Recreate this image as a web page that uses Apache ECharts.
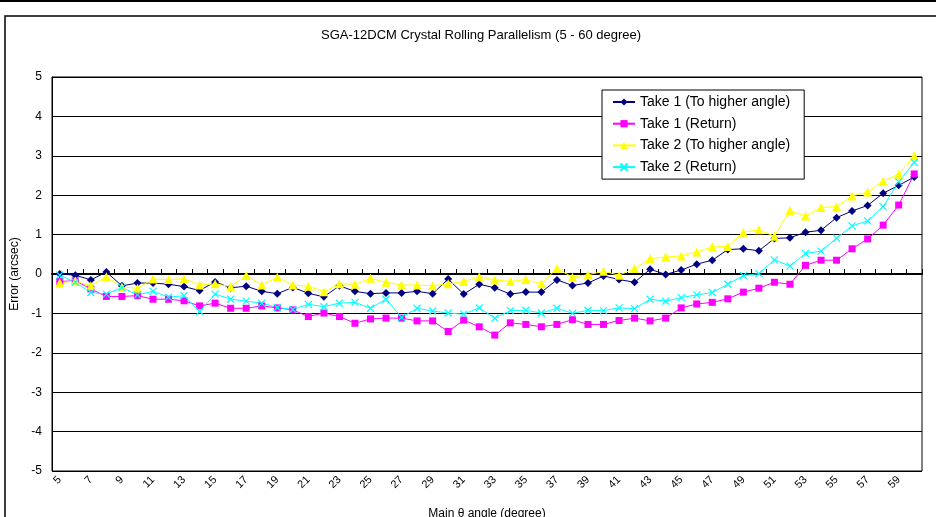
<!DOCTYPE html>
<html>
<head>
<meta charset="utf-8">
<script src="https://cdn.jsdelivr.net/npm/echarts@6/dist/echarts.min.js"></script>
<style>
  html, body { margin: 0; padding: 0; background: #fff; }
  #main { width: 936px; height: 517px; }
</style>
</head>
<body>
<div id="main"></div>
<script>
// main theta angle, degree
var angles = ['5','6','7','8','9','10','11','12','13','14','15','16','17','18','19','20',
  '21','22','23','24','25','26','27','28','29','30','31','32','33','34','35','36','37','38',
  '39','40','41','42','43','44','45','46','47','48','49','50','51','52','53','54','55','56',
  '57','58','59','60']

// error in arcsec
var take1Up = [0.00,-0.03,-0.15,0.05,-0.30,-0.23,-0.23,-0.26,-0.32,-0.42,-0.20,-0.35,-0.31,-0.44,
  -0.50,-0.34,-0.49,-0.58,-0.30,-0.44,-0.50,-0.48,-0.48,-0.44,-0.50,-0.13,-0.51,-0.26,-0.35,-0.51,
  -0.46,-0.46,-0.15,-0.29,-0.23,-0.05,-0.14,-0.21,0.12,-0.01,0.10,0.25,0.35,0.62,0.64,0.59,
  0.90,0.92,1.06,1.11,1.43,1.60,1.74,2.05,2.25,2.46]
var take1Ret = [-0.19,-0.17,-0.38,-0.57,-0.57,-0.55,-0.64,-0.64,-0.68,-0.81,-0.74,-0.87,-0.87,-0.81,
  -0.86,-0.91,-1.08,-0.99,-1.08,-1.25,-1.14,-1.12,-1.12,-1.19,-1.19,-1.46,-1.17,-1.34,-1.55,-1.24,
  -1.28,-1.34,-1.28,-1.16,-1.28,-1.28,-1.18,-1.12,-1.19,-1.12,-0.86,-0.76,-0.72,-0.63,-0.46,-0.36,
  -0.21,-0.26,0.22,0.35,0.35,0.64,0.89,1.24,1.75,2.54]
var take2Up = [-0.22,-0.18,-0.30,-0.07,-0.33,-0.36,-0.13,-0.14,-0.12,-0.28,-0.25,-0.32,-0.04,-0.28,
  -0.08,-0.28,-0.31,-0.45,-0.25,-0.26,-0.11,-0.21,-0.28,-0.28,-0.30,-0.25,-0.19,-0.07,-0.15,-0.19,
  -0.14,-0.25,0.14,-0.08,-0.02,0.07,-0.03,0.14,0.39,0.43,0.46,0.56,0.69,0.70,1.06,1.12,
  0.96,1.61,1.47,1.69,1.71,1.98,2.08,2.36,2.53,3.00]
var take2Ret = [-0.03,-0.21,-0.47,-0.51,-0.34,-0.53,-0.44,-0.59,-0.55,-0.95,-0.51,-0.64,-0.69,-0.74,
  -0.85,-0.90,-0.77,-0.83,-0.74,-0.72,-0.87,-0.64,-1.10,-0.87,-0.94,-0.99,-1.02,-0.86,-1.12,-0.93,
  -0.92,-0.99,-0.87,-1.00,-0.92,-0.93,-0.86,-0.88,-0.64,-0.69,-0.60,-0.53,-0.47,-0.26,-0.04,0.01,
  0.36,0.20,0.52,0.58,0.91,1.22,1.35,1.71,2.34,2.83]

var seriesNames = ['Take 1 (To higher angle)', 'Take 1 (Return)', 'Take 2 (To higher angle)', 'Take 2 (Return)']

var font = 'Liberation Sans'
var crossMark = 'path://M0,0L10,10M10,0L0,10'

function lineSeries(name, data, color, symbol, size) {
  return {
    name: name,
    type: 'line',
    xAxisIndex: 0,
    data: data,
    symbol: symbol,
    symbolSize: size,
    showSymbol: true,
    lineStyle: { color: color, width: 1 },
    itemStyle: { color: color, borderColor: color, borderWidth: symbol === crossMark ? 1.2 : 0 }
  }
}

var myChart = echarts.init(document.getElementById('main'))
var option = {
  animation: false,
  backgroundColor: '#fff',
  textStyle: { fontFamily: font },
  title: {
    text: 'SGA-12DCM Crystal Rolling Parallelism (5 - 60 degree)',
    left: 316,
    top: 24,
    textStyle: { fontSize: 13, fontWeight: 'normal', color: '#000', fontFamily: font }
  },
  graphic: [
    { type: 'rect', shape: { x: 0, y: 0, width: 936, height: 2 }, style: { fill: '#000' } },
    { type: 'rect', shape: { x: 5, y: 16, width: 945, height: 520 }, style: { fill: 'none', stroke: '#000', lineWidth: 1.5 } }
  ],
  legend: {
    data: seriesNames,
    orient: 'vertical',
    left: 602,
    top: 90,
    itemWidth: 22,
    itemHeight: 9,
    itemGap: 7.7,
    padding: [5, 14, 5, 10],
    borderColor: '#000',
    borderWidth: 1,
    borderRadius: 0,
    backgroundColor: '#fff',
    textStyle: { fontSize: 14, lineHeight: 14, color: '#000', fontFamily: font }
  },
  grid: {
    left: 52,
    right: 14,
    top: 77,
    bottom: 46,
    outerBoundsMode: 'none',
    show: true,
    borderColor: '#000',
    borderWidth: 1,
    backgroundColor: '#fff'
  },
  xAxis: [{
    type: 'category',
    data: angles,
    position: 'bottom',
    boundaryGap: true,
    axisLine: { show: false, onZero: false },
    axisTick: { show: false },
    axisLabel: { interval: 1, rotate: 45, fontSize: 11, color: '#000', margin: 7 },
    name: 'Main θ angle (degree)',
    nameLocation: 'middle',
    nameGap: 37,
    nameTextStyle: { fontSize: 12, color: '#000' }
  }, {
    type: 'category',
    data: angles,
    position: 'bottom',
    boundaryGap: true,
    axisLine: { show: true, onZero: true, lineStyle: { color: '#000', width: 2 } },
    axisTick: { show: true, inside: true, length: 5, interval: 0, lineStyle: { color: '#000' } },
    axisLabel: { show: false }
  }],
  yAxis: {
    type: 'value',
    min: -5,
    max: 5,
    interval: 1,
    axisLine: { show: true, lineStyle: { color: '#000', width: 1 } },
    axisTick: { show: false },
    axisLabel: { fontSize: 12, color: '#000', margin: 10 },
    splitLine: { lineStyle: { color: '#000', width: 1 } },
    name: 'Error (arcsec)',
    nameLocation: 'middle',
    nameGap: 27,
    nameTextStyle: { fontSize: 12, color: '#000' }
  },
  series: [
    lineSeries(seriesNames[0], take1Up, '#000080', 'diamond', 8),
    lineSeries(seriesNames[1], take1Ret, '#ff00ff', 'rect', 7),
    lineSeries(seriesNames[2], take2Up, '#ffff00', 'triangle', 9),
    lineSeries(seriesNames[3], take2Ret, '#00ffff', crossMark, 7)
  ]
}
myChart.setOption(option)
</script>
</body>
</html>
